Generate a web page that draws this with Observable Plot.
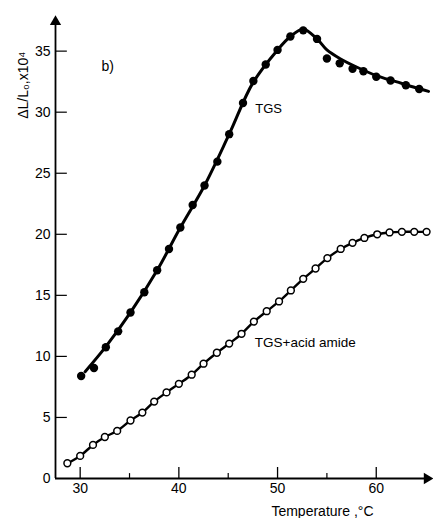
<!DOCTYPE html>
<html>
<head>
<meta charset="utf-8">
<script src="https://cdn.jsdelivr.net/npm/d3@7"></script>
<script src="https://cdn.jsdelivr.net/npm/@observablehq/plot@0.6"></script>
<style>
  body { margin: 0; background: #fff; }
  #chart svg { font-family: "Liberation Sans", Arial, sans-serif; }
</style>
</head>
<body>
<div id="chart"></div>
<script>
// TGS (filled circles): temperature, ΔL/L0 x10^4
const tgsT = [30.1, 31.4, 32.6, 33.85, 35.1, 36.5, 37.8, 39.0, 40.15, 41.4, 42.6, 43.9, 45.1, 46.5, 47.55, 48.8, 50.0, 51.3, 52.6, 54.0, 55.0, 56.3, 57.6, 58.7, 60.0, 61.45, 63.0, 64.35];
const tgsV = [8.4, 9.05, 10.75, 12.05, 13.6, 15.25, 17.05, 18.8, 20.55, 22.4, 24.0, 25.95, 28.2, 30.75, 32.55, 33.9, 35.1, 36.2, 36.7, 36.0, 34.4, 34.0, 33.55, 33.35, 32.9, 32.6, 32.2, 31.9];
// TGS fitted curve
const tgsCurveT = [30.5, 32.6, 35.1, 37.8, 40.15, 42.6, 45.1, 47.5, 50.0, 51.3, 52.6, 54.0, 55.0, 56.3, 58.0, 60.0, 62.0, 64.0, 65.3];
const tgsCurveV = [8.75, 10.8, 13.6, 17.05, 20.55, 24.0, 28.2, 32.4, 35.1, 36.2, 36.8, 36.0, 35.1, 34.4, 33.7, 33.0, 32.5, 32.0, 31.7];
// TGS + acid amide (open circles)
const amideT = [28.7, 30.0, 31.3, 32.5, 33.75, 35.1, 36.3, 37.5, 38.75, 40.0, 41.3, 42.5, 43.85, 45.1, 46.35, 47.6, 48.9, 50.15, 51.35, 52.6, 53.85, 55.05, 56.4, 57.6, 58.8, 60.1, 61.35, 62.6, 63.85, 65.1];
const amideV = [1.25, 1.85, 2.75, 3.4, 3.9, 4.75, 5.4, 6.3, 7.05, 7.75, 8.5, 9.4, 10.3, 11.05, 11.85, 12.85, 13.7, 14.5, 15.4, 16.35, 17.2, 18.05, 18.8, 19.3, 19.7, 20.0, 20.15, 20.2, 20.2, 20.2];

const xMajor = [30, 40, 50, 60];
const xMinor = [35, 45, 55];
const yTicks = [0, 5, 10, 15, 20, 25, 30, 35];
const xDomain = [27.5, 65.7];
const yDomain = [0, 38];

const tgs = tgsT.map((t, i) => ({t, v: tgsV[i]}));
const tgsCurve = tgsCurveT.map((t, i) => ({t, v: tgsCurveV[i]}));
const amide = amideT.map((t, i) => ({t, v: amideV[i]}));

const chart = Plot.plot({
  width: 433,
  height: 518,
  marginLeft: 55,
  marginRight: 1,
  marginTop: 14,
  marginBottom: 40,
  style: {fontSize: "14px", fontFamily: "Liberation Sans, Arial, sans-serif", color: "black", background: "white"},
  x: {domain: xDomain, axis: null},
  y: {domain: yDomain, axis: null},
  marks: [
    // axis lines
    Plot.ruleX([xDomain[0]], {y1: yDomain[0], y2: 37.3, stroke: "black", strokeWidth: 1.8}),
    Plot.ruleY([yDomain[0]], {x1: xDomain[0], x2: 65.2, stroke: "black", strokeWidth: 1.8}),
    Plot.dot([{x: xDomain[0], y: 37.4}], {x: "x", y: "y", symbol: "triangle", r: 4.2, fill: "black"}),
    Plot.dot([{x: 65.15, y: yDomain[0]}], {x: "x", y: "y", symbol: "triangle", rotate: 90, r: 4.2, fill: "black"}),
    // y ticks (inward) and labels
    Plot.ruleY(yTicks.slice(1), {x1: xDomain[0], x2: xDomain[0] + 1.2, stroke: "black", strokeWidth: 1.2}),
    Plot.axisY(yTicks, {tickSize: 0, tickPadding: 5, fontSize: 14}),
    // x ticks (inward) and labels
    Plot.ruleX(xMajor, {y1: yDomain[0], y2: 0.9, stroke: "black", strokeWidth: 1.3}),
    Plot.ruleX(xMinor, {y1: yDomain[0], y2: 0.4, stroke: "black", strokeWidth: 1.2}),
    Plot.axisX(xMajor, {tickSize: 0, tickPadding: 5, fontSize: 14}),
    // axis titles
    Plot.text(["ΔL/L₀,x10⁴"], {x: xDomain[0], y: 32.2, rotate: -90, dx: -32, fontSize: 14, fill: "black"}),
    Plot.text(["Temperature ,°C"], {x: 54.55, y: yDomain[0], dy: 33, fontSize: 14, fill: "black"}),
    // annotations
    Plot.text(["b)"], {x: 32.8, y: 33.7, fontSize: 14, fill: "black"}),
    Plot.text(["TGS"], {x: 49.1, y: 30.3, fontSize: 13, fill: "black"}),
    Plot.text(["TGS+acid amide"], {x: 47.7, y: 11.1, textAnchor: "start", fontSize: 13.5, fill: "black"}),
    // curves
    Plot.line(tgsCurve, {x: "t", y: "v", curve: "catmull-rom", stroke: "black", strokeWidth: 3}),
    Plot.line(amide, {x: "t", y: "v", curve: "catmull-rom", stroke: "black", strokeWidth: 2.4}),
    // points
    Plot.dot(tgs, {x: "t", y: "v", r: 4.2, fill: "black", stroke: "none"}),
    Plot.dot(amide, {x: "t", y: "v", r: 3.4, fill: "white", stroke: "black", strokeWidth: 1.5})
  ]
});
document.getElementById("chart").appendChild(chart);
</script>
</body>
</html>
